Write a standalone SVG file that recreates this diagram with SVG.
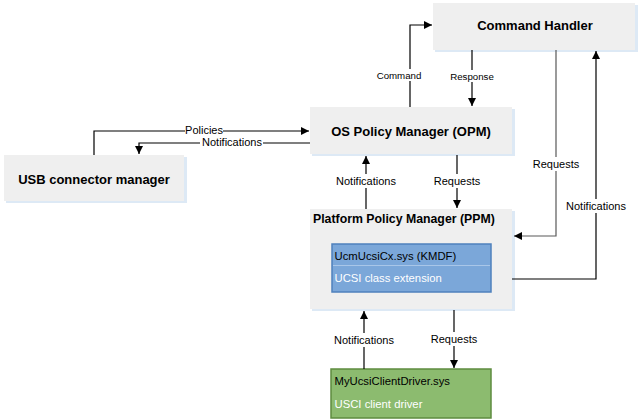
<svg xmlns="http://www.w3.org/2000/svg" width="641" height="419" viewBox="0 0 641 419">
<style>
.box{fill:#efefef;}
.sh{fill:#dde9f5;}
.t{font-family:"Liberation Sans",Arial,sans-serif;fill:#000;}
.b{font-weight:bold;font-size:13px;text-anchor:middle;}
.lbl{font-size:11px;text-anchor:middle;}
.sm{font-size:9.7px;text-anchor:middle;}
.ln{fill:none;stroke:#000;stroke-width:1.2;}
.g{stroke:#595959;}
.bg{fill:#fff;}
</style>
<defs>
<marker id="ah" viewBox="0 0 10 10" refX="10" refY="5" markerWidth="8" markerHeight="8" markerUnits="userSpaceOnUse" orient="auto">
<path d="M0,0 L10,5 L0,10 z" fill="#000"/>
</marker>
</defs>
<rect width="641" height="419" fill="#fff"/>

<g id="command-handler">
<rect class="sh" x="435" y="5" width="203" height="47"/>
<rect class="box" x="433" y="3" width="202" height="47"/>
<text class="t b" x="535" y="30">Command Handler</text>
</g>
<g id="opm">
<rect class="sh" x="312" y="109" width="203" height="47"/>
<rect class="box" x="310" y="107" width="202" height="47"/>
<text class="t b" x="411" y="136">OS Policy Manager (OPM)</text>
</g>
<g id="usb-connector-manager">
<rect class="sh" x="6" y="157" width="181" height="46"/>
<rect class="box" x="4" y="155" width="180" height="46"/>
<text class="t b" x="94" y="184">USB connector manager</text>
</g>
<g id="ppm">
<rect class="sh" x="312" y="211" width="203" height="100"/>
<rect class="box" x="310" y="209" width="202" height="100"/>
<text class="t" x="313" y="223" font-size="12.3" font-weight="bold">Platform Policy Manager (PPM)</text>
</g>
<g id="ucmucsicx">
<rect x="332" y="244" width="159" height="48" fill="#7ba7d9" stroke="#4f81bd" stroke-width="1.5"/>
<line x1="333" y1="265.5" x2="490" y2="265.5" stroke="#a9c6e8" stroke-width="1"/>
<text class="t" x="334.5" y="260" font-size="11.3">UcmUcsiCx.sys (KMDF)</text>
<text class="t" x="334.5" y="282" font-size="11.3" fill="#fff" style="fill:#fff">UCSI class extension</text>
</g>
<g id="client-driver">
<rect x="331" y="369" width="160" height="49" fill="#8cbb6f" stroke="#5e8c3f" stroke-width="1.5"/>
<text class="t" x="334.5" y="385" font-size="11.3">MyUcsiClientDriver.sys</text>
<text class="t" x="334.5" y="408" font-size="11.3" style="fill:#fff">USCI client driver</text>
</g>

<g id="connectors">
<polyline class="ln" points="410,107 410,25 432,25" marker-end="url(#ah)"/>
<rect class="bg" x="376" y="69" width="46" height="12"/>
<text class="t sm" x="399" y="79">Command</text>
<line class="ln" x1="472" y1="50" x2="472" y2="106" marker-end="url(#ah)"/>
<rect class="bg" x="452" y="70" width="41" height="12"/>
<text class="t sm" x="472" y="80">Response</text>

<polyline class="ln g" points="556,50 556,236 514,236" marker-end="url(#ah)"/>
<rect class="bg" x="533" y="157" width="46" height="14"/>
<text class="t lbl" x="556" y="168">Requests</text>
<polyline class="ln" points="512,279 596,279 596,51" marker-end="url(#ah)"/>
<rect class="bg" x="564" y="199" width="64" height="14"/>
<text class="t lbl" x="596" y="210">Notifications</text>

<line class="ln" x1="366" y1="209" x2="366" y2="156" marker-end="url(#ah)"/>
<rect class="bg" x="334" y="174" width="64" height="14"/>
<text class="t lbl" x="366" y="185">Notifications</text>
<line class="ln" x1="457" y1="155" x2="457" y2="208" marker-end="url(#ah)"/>
<rect class="bg" x="434" y="174" width="46" height="14"/>
<text class="t lbl" x="457" y="185">Requests</text>

<polyline class="ln" points="94,155 94,131 309,131" marker-end="url(#ah)"/>
<rect class="bg" x="185" y="124" width="38" height="12"/>
<text class="t lbl" x="204" y="134">Policies</text>
<polyline class="ln" points="310,143 139,143 139,154" marker-end="url(#ah)"/>
<rect class="bg" x="200" y="136" width="63" height="12"/>
<text class="t lbl" x="232" y="146">Notifications</text>

<line class="ln" x1="364" y1="369" x2="364" y2="311" marker-end="url(#ah)"/>
<rect class="bg" x="332" y="333" width="64" height="14"/>
<text class="t lbl" x="364" y="344">Notifications</text>
<line class="ln" x1="454" y1="310" x2="454" y2="368" marker-end="url(#ah)"/>
<rect class="bg" x="431" y="332" width="46" height="14"/>
<text class="t lbl" x="454" y="343">Requests</text>
</g>
</svg>
